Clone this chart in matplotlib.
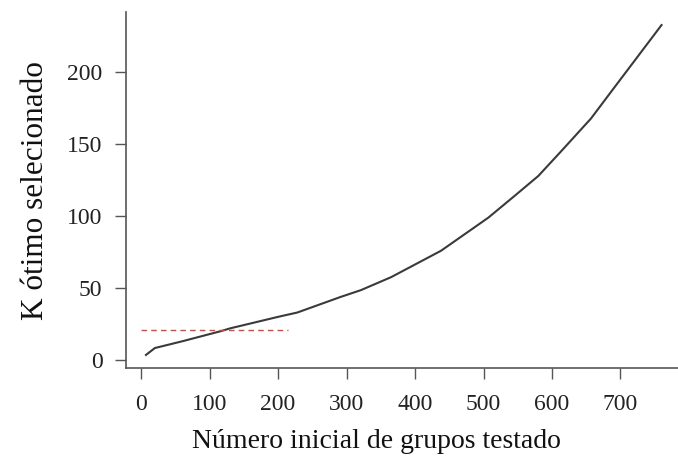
import matplotlib.pyplot as plt

# initial number of groups tested vs. selected optimal K
grupos = [7, 20, 60, 116, 130, 200, 228, 291, 321, 365, 438, 507, 545, 580, 613, 657, 687, 760]
k_otimo = [3.5, 8.3, 13, 20, 22, 30, 33, 43.8, 48.6, 57.6, 76, 99, 114, 128, 145, 168, 187, 233]

# reference line
ref_x = [0, 215]
ref_y = [21, 21]

xticks = [0, 100, 200, 300, 400, 500, 600, 700]
yticks = [0, 50, 100, 150, 200]

plt.rcParams['font.family'] = ['Liberation Serif', 'DejaVu Serif']

fig = plt.figure(figsize=(6.78, 4.61), dpi=100)
ax = fig.add_axes([0.186, 0.2017, 0.82, 0.772])

ax.plot(grupos, k_otimo, color='#3a3a3a', lw=1.5)
ax.plot(ref_x, ref_y, color='#c05050', lw=1.0, ls=(0, (4, 3)))

ax.set_xlim(-22, 790)
ax.set_ylim(-5.6, 242)
ax.set_xticks(xticks)
ax.set_yticks(yticks)

for s in ['top', 'right']:
    ax.spines[s].set_visible(False)
for s in ['left', 'bottom']:
    ax.spines[s].set_color('#555555')
    ax.spines[s].set_linewidth(1.2)

ax.tick_params(direction='out', length=8, width=1.0, color='#555555',
               labelsize=17, labelcolor='#222222')
ax.tick_params(axis='x', pad=11)
ax.tick_params(axis='y', pad=9)

ax.set_xlabel('Número inicial de grupos testado', fontsize=20, color='#111111', labelpad=10)
ax.xaxis.label.set_x(0.45)
ax.set_ylabel('K ótimo selecionado', fontsize=22.5, color='#111111', labelpad=12)

fig.savefig('out.png', dpi=100)
